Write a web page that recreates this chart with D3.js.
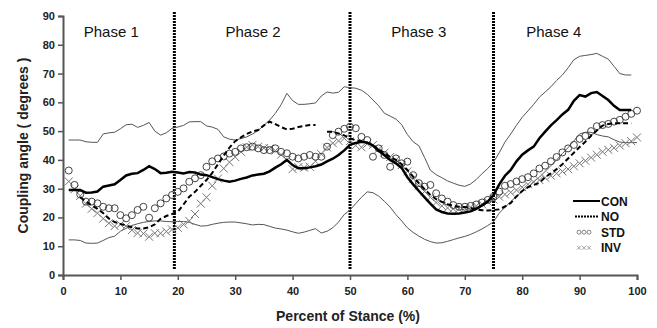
<!DOCTYPE html>
<html>
<head>
<meta charset="utf-8">
<script src="https://cdn.jsdelivr.net/npm/d3@7"></script>
<style>
  body { margin: 0; background: #fff; }
  svg { display: block; font-family: Arial, "Liberation Sans", sans-serif; }
</style>
</head>
<body>
<svg width="657" height="328"></svg>
<script>
// percent of stance, 1..100
const stance = [1,2,3,4,5,6,7,8,9,10,11,12,13,14,15,16,17,18,19,20,21,22,23,24,25,26,27,28,29,30,31,32,33,34,35,36,37,38,39,40,41,42,43,44,45,46,47,48,49,50,51,52,53,54,55,56,57,58,59,60,61,62,63,64,65,66,67,68,69,70,71,72,73,74,75,76,77,78,79,80,81,82,83,84,85,86,87,88,89,90,91,92,93,94,95,96,97,98,99,100];

const con = [29.5,29.5,29.5,28.6,28.7,29.0,30.7,31.1,31.5,33.0,34.6,35.2,35.4,36.5,37.8,36.8,35.4,35.5,35.9,35.6,
  35.3,35.8,35.6,34.9,34.7,34.0,33.3,32.8,32.4,32.8,33.4,33.9,34.6,34.9,35.2,36.0,37.3,38.5,40.0,38.2,
  37.1,37.1,37.4,37.8,38.4,39.5,40.4,41.7,43.3,45.2,45.9,46.3,46.0,45.0,43.2,41.6,40.0,38.8,37.2,34.0,
  31.5,29.2,27.0,24.8,22.8,21.9,21.4,21.3,21.4,21.7,22.1,23.0,24.2,25.5,27.8,31.5,34.5,36.5,39.5,41.8,
  43.3,44.6,47.5,49.8,52.0,53.8,55.8,57.4,60.5,62.5,62.0,63.2,63.6,62.2,60.8,58.8,57.3,57.3,57.3,null];

const no = [null,null,27.0,25.5,24.2,23.0,21.5,19.6,18.4,17.7,17.2,16.6,16.2,16.2,16.6,17.6,19.5,20.5,21.2,22.0,
  24.5,27.2,28.9,31.0,33.0,35.5,38.5,41.5,44.3,46.5,47.8,49.0,49.9,50.4,52.0,53.3,52.4,51.4,50.6,50.8,
  51.4,51.8,52.1,52.1,null,49.8,49.8,49.2,48.5,47.5,46.8,46.5,46.0,45.0,43.6,42.3,41.0,40.0,38.5,36.5,
  34.2,31.9,29.8,27.8,26.4,25.4,24.6,24.0,23.7,23.6,23.3,22.8,22.5,22.4,22.6,22.8,23.8,25.0,27.3,29.2,
  30.5,31.3,32.0,34.0,35.3,36.8,38.5,40.5,42.5,44.5,46.3,48.4,50.2,51.9,52.5,52.7,52.7,52.7,52.7,null];

const conUpper = [46.9,46.9,46.9,46.3,46.1,46.1,49.0,49.4,49.6,50.8,52.2,52.4,51.3,52.0,53.0,50.0,48.6,49.4,51.0,51.4,
  52.0,53.2,53.3,53.3,51.8,51.4,50.6,48.0,47.2,46.9,47.4,48.0,49.0,50.2,52.0,53.8,56.2,59.2,63.1,60.6,
  59.3,59.3,59.5,59.8,62.2,63.6,63.2,63.5,65.4,65.1,64.9,64.2,62.8,60.8,58.8,56.2,55.2,54.2,52.2,48.8,
  46.3,44.9,40.8,36.4,34.9,33.8,32.7,31.9,31.2,30.8,31.6,33.2,35.2,37.0,39.2,42.5,46.2,49.0,52.0,54.8,
  57.0,59.3,61.8,63.6,65.4,67.6,69.5,72.0,74.8,76.0,76.3,76.6,77.0,76.0,75.0,72.5,70.0,69.5,69.5,null];

const conLower = [12.2,12.2,12.0,11.1,11.0,11.1,12.0,13.0,13.5,15.2,16.2,17.2,17.8,18.3,18.6,18.8,18.8,18.6,18.5,18.6,
  18.6,18.3,17.6,17.0,17.1,17.6,18.0,18.3,18.4,18.4,18.1,17.8,17.4,17.6,17.5,16.9,16.3,16.0,15.6,15.0,
  14.5,14.9,15.5,16.1,14.6,15.2,16.4,18.4,21.0,22.6,24.8,27.0,28.9,28.6,27.4,25.6,23.6,21.0,18.8,16.4,
  14.8,13.5,12.4,11.6,11.1,11.2,11.7,12.3,12.9,13.4,14.1,15.0,16.0,17.2,18.5,21.5,23.5,25.5,27.3,29.0,
  30.6,32.4,34.0,36.0,38.0,40.0,42.2,44.3,46.6,49.0,49.6,49.6,48.8,48.3,48.0,47.0,46.2,46.0,46.0,46.0];

const std = [36.3,31.3,28.0,25.5,25.5,24.9,23.7,23.2,23.2,20.8,19.7,20.8,22.6,23.7,19.9,23.2,24.9,26.6,27.8,28.9,
  30.1,32.4,33.6,34.7,37.6,39.5,40.5,41.2,42.2,42.8,44.0,44.4,44.6,44.0,43.4,43.4,44.0,42.8,42.3,41.1,
  40.5,41.1,41.7,41.1,41.1,44.6,48.6,49.8,50.8,51.5,51.0,48.0,46.9,41.1,44.0,41.7,37.6,40.5,38.8,39.4,
  34.7,31.9,30.7,31.3,28.4,26.6,25.5,24.3,23.7,23.7,24.0,24.5,25.2,26.1,27.2,29.0,31.0,31.6,32.5,33.3,
  34.0,35.3,37.0,38.0,39.5,41.0,42.6,44.0,45.2,47.3,48.3,50.0,51.7,52.1,52.5,53.3,53.9,55.0,56.0,57.1];

const inv = [32.5,29.8,27.5,24.8,23.0,21.5,19.6,18.0,17.0,17.6,17.0,15.6,14.6,14.4,13.3,14.5,14.5,15.1,15.8,16.4,
  17.6,18.8,21.2,24.8,27.0,31.0,33.5,37.0,39.2,41.0,42.8,44.4,45.2,44.6,44.1,44.0,43.2,41.8,40.0,36.8,
  37.5,37.3,37.6,39.5,42.0,44.3,45.8,46.6,47.5,46.5,45.0,44.4,45.6,45.2,43.8,42.5,41.0,40.0,38.2,36.0,
  33.5,31.0,29.0,27.0,25.2,24.0,23.3,23.0,23.0,23.3,23.6,24.0,24.6,25.4,26.2,27.2,28.0,28.7,29.5,30.5,
  31.5,32.3,33.0,33.8,34.5,35.3,36.0,36.8,37.8,38.8,39.7,40.8,41.8,42.8,43.5,44.2,45.0,45.8,46.5,47.8];

const phaseBounds = [19.4, 50, 75];
const phaseLabels = ["Phase 1", "Phase 2", "Phase 3", "Phase 4"];
const phaseLabelX = [8.4, 33.1, 62, 85.5];
const xTicks = [0,10,20,30,40,50,60,70,80,90,100];
const yTicks = [0,10,20,30,40,50,60,70,80,90];
const legendNames = ["CON", "NO", "STD", "INV"];

const svg = d3.select("svg");
const margin = {top: 16, right: 20, bottom: 53, left: 63};
const width = 657 - margin.left - margin.right;
const height = 328 - margin.top - margin.bottom;

const x = d3.scaleLinear().domain([0, 100]).range([0, width]);
const y = d3.scaleLinear().domain([0, 90]).range([height, 0]);

const g = svg.append("g").attr("transform", "translate(" + margin.left + "," + margin.top + ")");

// axes
const xAxis = g.append("g")
  .attr("transform", "translate(0," + height + ")")
  .call(d3.axisBottom(x).tickValues(xTicks).tickSize(5).tickPadding(7));
const yAxis = g.append("g")
  .call(d3.axisLeft(y).tickValues(yTicks).tickSize(5).tickPadding(3));
[xAxis, yAxis].forEach(a => {
  a.select(".domain").attr("stroke", "#555").attr("stroke-width", 2);
  a.selectAll(".tick line").attr("stroke", "#555").attr("stroke-width", 1.5);
  a.selectAll("text").attr("font-size", 11).attr("font-weight", "bold").attr("fill", "#222")
    .attr("font-family", "Arial, 'Liberation Sans', sans-serif");
});

// axis titles
svg.append("text")
  .attr("transform", "translate(28," + (margin.top + height / 2) + ") rotate(-90)")
  .attr("text-anchor", "middle").attr("font-size", 14).attr("font-weight", "bold").attr("fill", "#222")
  .text("Coupling angle ( degrees )");
svg.append("text")
  .attr("x", margin.left + width / 2 - 2).attr("y", 321)
  .attr("text-anchor", "middle").attr("font-size", 14).attr("font-weight", "bold").attr("fill", "#222")
  .text("Percent of Stance (%)");

// phase labels
g.selectAll(".phase")
  .data(phaseLabels)
  .enter().append("text")
  .attr("x", (d, i) => x(phaseLabelX[i]))
  .attr("y", 21)
  .attr("text-anchor", "middle").attr("font-size", 15).attr("fill", "#111")
  .text(d => d);

// phase dividers
g.selectAll(".divider")
  .data(phaseBounds)
  .enter().append("line")
  .attr("x1", d => x(d)).attr("x2", d => x(d))
  .attr("y1", -4).attr("y2", height - 5)
  .attr("stroke", "#000").attr("stroke-width", 3).attr("stroke-dasharray", "2,1");

const line = vals => d3.line()
  .defined((d, i) => vals[i] != null)
  .x((d, i) => x(stance[i]))
  .y((d, i) => y(vals[i]))(vals);

// CON +/- SD
[conUpper, conLower].forEach(vals => {
  g.append("path").attr("d", line(vals))
    .attr("fill", "none").attr("stroke", "#555").attr("stroke-width", 1);
});

// INV crosses
const cs = 4;
g.append("g").selectAll("path")
  .data(inv)
  .enter().append("path")
  .attr("d", (d, i) => {
    const cx = x(stance[i]), cy = y(d);
    return "M" + (cx - cs) + "," + (cy - cs) + "L" + (cx + cs) + "," + (cy + cs) +
           "M" + (cx - cs) + "," + (cy + cs) + "L" + (cx + cs) + "," + (cy - cs);
  })
  .attr("stroke", "#777").attr("stroke-width", 1).attr("fill", "none");

// STD circles
g.append("g").selectAll("circle")
  .data(std)
  .enter().append("circle")
  .attr("cx", (d, i) => x(stance[i]))
  .attr("cy", d => y(d))
  .attr("r", 3.5)
  .attr("fill", "none").attr("stroke", "#444").attr("stroke-width", 1);

// NO dashed
g.append("path").attr("d", line(no))
  .attr("fill", "none").attr("stroke", "#000").attr("stroke-width", 2).attr("stroke-dasharray", "5,3");

// CON thick
g.append("path").attr("d", line(con))
  .attr("fill", "none").attr("stroke", "#000").attr("stroke-width", 2.5);

// legend
const lg = svg.append("g").attr("transform", "translate(573,201)");
const rowH = 15.6;
legendNames.forEach((name, i) => {
  const row = lg.append("g").attr("transform", "translate(0," + (i * rowH) + ")");
  if (name === "CON") {
    row.append("line").attr("x1", 0).attr("x2", 27).attr("stroke", "#000").attr("stroke-width", 2);
  } else if (name === "NO") {
    row.append("line").attr("x1", 2).attr("x2", 26).attr("stroke", "#000").attr("stroke-width", 2)
      .attr("stroke-dasharray", "2,1");
  } else if (name === "STD") {
    [0, 1, 2].forEach(k => row.append("circle").attr("cx", 6 + k * 5).attr("cy", 0).attr("r", 2)
      .attr("fill", "none").attr("stroke", "#666").attr("stroke-width", 0.8));
  } else {
    [0, 1, 2].forEach(k => {
      const cx = 6 + k * 5;
      row.append("path").attr("d", "M" + (cx - 2) + ",-2L" + (cx + 2) + ",2M" + (cx - 2) + ",2L" + (cx + 2) + ",-2")
        .attr("stroke", "#888").attr("stroke-width", 0.8);
    });
  }
  row.append("text").attr("x", 28).attr("y", 4.5)
    .attr("font-size", 12).attr("font-weight", "bold").attr("fill", "#111").text(name);
});
</script>
</body>
</html>
